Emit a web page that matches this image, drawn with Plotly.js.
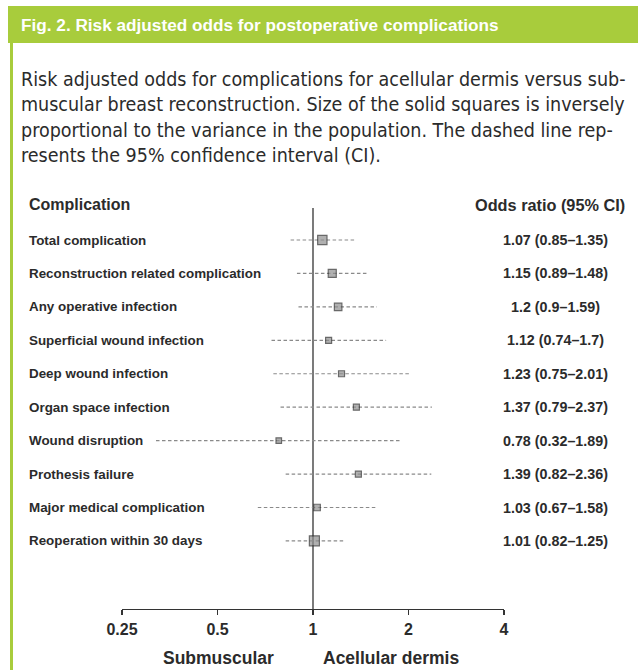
<!DOCTYPE html>
<html>
<head>
<meta charset="utf-8">
<script src="https://cdn.plot.ly/plotly-3.0.1.min.js"></script>
<style>html,body{margin:0;padding:0;background:#fff;}#chart{width:638px;height:670px;}</style>
</head>
<body>
<div id="chart"></div>
<script>
// ---- data ----
const categories = [
  "Total complication",
  "Reconstruction related complication",
  "Any operative infection",
  "Superficial wound infection",
  "Deep wound infection",
  "Organ space infection",
  "Wound disruption",
  "Prothesis failure",
  "Major medical complication",
  "Reoperation within 30 days"
];
const oddsRatio = [1.07, 1.15, 1.2, 1.12, 1.23, 1.37, 0.78, 1.39, 1.03, 1.01];
const ciLow     = [0.85, 0.89, 0.9, 0.74, 0.75, 0.79, 0.32, 0.82, 0.67, 0.82];
const ciHigh    = [1.35, 1.48, 1.59, 1.7, 2.01, 2.37, 1.89, 2.36, 1.58, 1.25];
const ciLabels  = ["1.07 (0.85–1.35)", "1.15 (0.89–1.48)", "1.2 (0.9–1.59)", "1.12 (0.74–1.7)",
                   "1.23 (0.75–2.01)", "1.37 (0.79–2.37)", "0.78 (0.32–1.89)", "1.39 (0.82–2.36)",
                   "1.03 (0.67–1.58)", "1.01 (0.82–1.25)"];
const weights   = [9.3, 8, 7.5, 6, 6, 6, 5.5, 6, 6.5, 10];   // relative square weights (inverse variance)
const tickValues = [0.25, 0.5, 1, 2, 4];
const tickLabels = ["0.25", "0.5", "1", "2", "4"];
const titleText = "Fig. 2. Risk adjusted odds for postoperative complications";
const captionLines = [
  "Risk adjusted odds for complications for acellular dermis versus sub-",
  "muscular breast reconstruction. Size of the solid squares is inversely",
  "proportional to the variance in the population. The dashed line rep-",
  "resents the 95% confidence interval (CI)."
];
const colHeaderLeft = "Complication";
const colHeaderRight = "Odds ratio (95% CI)";
const sideLeft = "Submuscular";
const sideRight = "Acellular dermis";

// ---- layout geometry ----
const W = 638, H = 670;
const L = 122, R = 504, T = 208, B = 609;
const px = x => (x - L) / (R - L);
const py = y => (B - y) / (B - T);
const rowTop = 240, rowStep = 33.44;
const yMin = -(rowTop - T) / rowStep;
const yMax = (categories.length - 1) + (B - (rowTop + rowStep * (categories.length - 1))) / rowStep;

const FONT = "'Liberation Sans', Arial, sans-serif";
const CAPFONT = "'DejaVu Sans Condensed', 'DejaVu Sans', sans-serif";
const TXT = "#2b2b2b";
const GREEN = "#a8cc3c";

const idx = categories.map((_, i) => i);

// CI dashed lines
const ciX = [], ciY = [];
idx.forEach(i => { ciX.push(ciLow[i], ciHigh[i], null); ciY.push(i, i, null); });

const traces = [
  {
    x: [1, 1], y: [yMin, yMax], mode: "lines", type: "scatter",
    line: {color: "#333", width: 1.3}, hoverinfo: "skip", showlegend: false, cliponaxis: false
  },
  {
    x: ciX, y: ciY, mode: "lines", type: "scatter",
    line: {color: "#8a8a8a", width: 1.2, dash: "3.5px,2.5px"}, hoverinfo: "skip", showlegend: false
  },
  {
    x: oddsRatio, y: idx, mode: "markers", type: "scatter",
    marker: {symbol: "square", size: weights, color: "#8f8f8f", line: {color: "#2b2b2b", width: 1.2}},
    showlegend: false
  }
];

const annotations = [];
// title
annotations.push({xref: "paper", yref: "paper", x: px(19), y: py(25), xanchor: "left", yanchor: "middle",
  text: "<b>" + titleText + "</b>", showarrow: false, font: {family: FONT, size: 17.2, color: "#fff"}});
// caption
annotations.push({xref: "paper", yref: "paper", x: px(19), y: py(66), xanchor: "left", yanchor: "top",
  align: "left", text: captionLines.join("<br>"), showarrow: false,
  font: {family: CAPFONT, size: 19.5, color: TXT}});
// column headers
annotations.push({xref: "paper", yref: "paper", x: px(27), y: py(205), xanchor: "left", yanchor: "middle",
  text: "<b>" + colHeaderLeft + "</b>", showarrow: false, font: {family: FONT, size: 16, color: TXT}});
annotations.push({xref: "paper", yref: "paper", x: px(627), y: py(205), xanchor: "right", yanchor: "middle",
  text: "<b>" + colHeaderRight + "</b>", showarrow: false, font: {family: FONT, size: 16.3, color: TXT}});
// row labels and values
idx.forEach(i => {
  annotations.push({xref: "paper", yref: "y", x: px(27), y: i, xanchor: "left", yanchor: "middle",
    text: "<b>" + categories[i] + "</b>", showarrow: false, font: {family: FONT, size: 13.4, color: TXT}});
  annotations.push({xref: "paper", yref: "y", x: px(555), y: i, xanchor: "center", yanchor: "middle",
    text: "<b>" + ciLabels[i] + "</b>", showarrow: false, font: {family: FONT, size: 14.3, color: TXT}});
});
// side labels
annotations.push({xref: "paper", yref: "paper", x: px(218), y: py(658), xanchor: "center", yanchor: "middle",
  text: "<b>" + sideLeft + "</b>", showarrow: false, font: {family: FONT, size: 17.5, color: TXT}});
annotations.push({xref: "paper", yref: "paper", x: px(391), y: py(658), xanchor: "center", yanchor: "middle",
  text: "<b>" + sideRight + "</b>", showarrow: false, font: {family: FONT, size: 17.5, color: TXT}});

const shapes = [
  {type: "rect", xref: "paper", yref: "paper", x0: px(8), x1: px(640), y0: py(6), y1: py(43),
   fillcolor: GREEN, line: {width: 0}, layer: "below"},
  {type: "rect", xref: "paper", yref: "paper", x0: px(10), x1: px(13), y0: py(43), y1: py(672),
   fillcolor: GREEN, line: {width: 0}, layer: "below"}
];

const layout = {
  width: W, height: H,
  margin: {l: L, r: W - R, t: T, b: H - B, pad: 0},
  paper_bgcolor: "#fff", plot_bgcolor: "#fff",
  xaxis: {
    type: "log", range: [Math.log10(0.25), Math.log10(4)], autorange: false,
    tickvals: tickValues, ticktext: tickLabels.map(t => "<b>" + t + "</b>"),
    showline: true, linecolor: "#333", linewidth: 1.3, ticks: "outside", ticklen: 5, tickwidth: 1.3,
    tickcolor: "#333", showgrid: false, zeroline: false,
    tickfont: {family: FONT, size: 16, color: TXT}, fixedrange: true
  },
  yaxis: {
    range: [yMax, yMin], autorange: false, showgrid: false, zeroline: false,
    showticklabels: false, showline: false, ticks: "", fixedrange: true
  },
  annotations: annotations,
  shapes: shapes,
  showlegend: false
};

Plotly.newPlot("chart", traces, layout, {staticPlot: true, displayModeBar: false});
</script>
</body>
</html>
